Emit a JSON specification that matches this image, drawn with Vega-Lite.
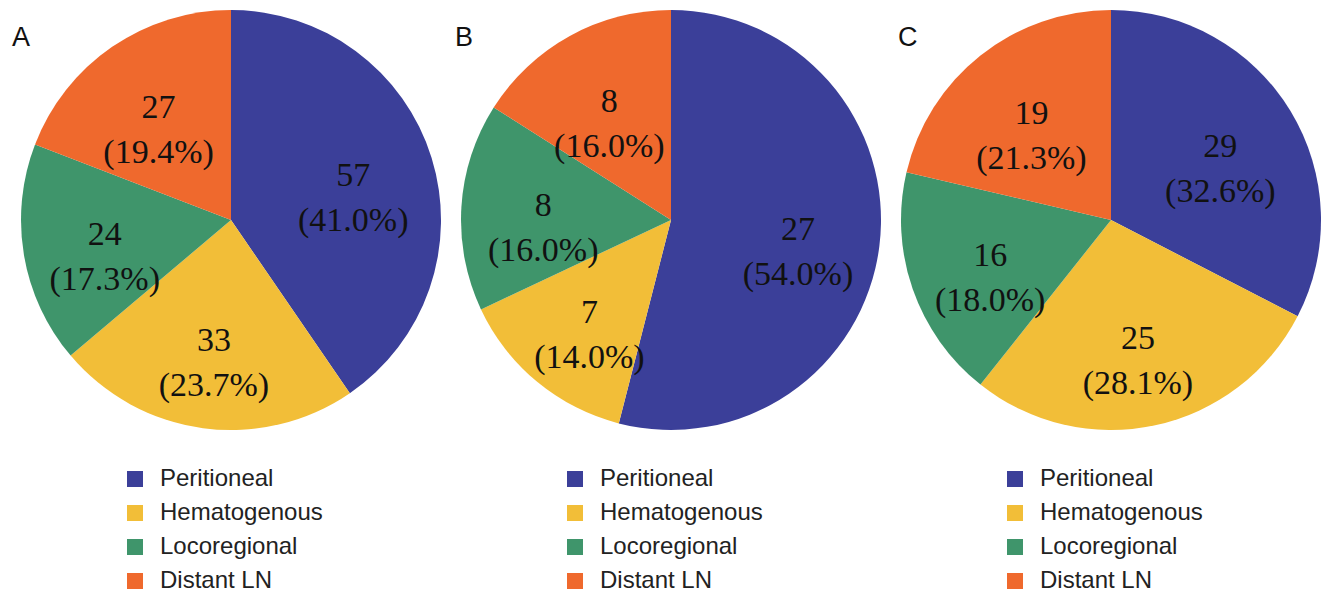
{
  "$schema": "https://vega.github.io/schema/vega-lite/v6.json",
  "padding": {"left": 11, "top": 10, "right": 0, "bottom": 0},
  "background": "white",
  "config": {
    "view": {"stroke": null},
    "concat": {"spacing": 0},
    "legend": {
      "orient": "none",
      "legendX": 112,
      "legendY": 457,
      "title": null,
      "symbolType": "square",
      "symbolSize": 256,
      "symbolStrokeWidth": 0,
      "labelFontSize": 24,
      "labelFont": "Liberation Sans",
      "labelColor": "#222222",
      "labelOffset": 13,
      "rowPadding": 10,
      "labelLimit": 300
    },
    "title": {
      "anchor": "start",
      "frame": "group",
      "font": "Liberation Sans",
      "fontSize": 27,
      "fontWeight": "normal",
      "color": "#111111",
      "baseline": "alphabetic",
      "offset": -42
    }
  },
  "datasets": {
    "d": [
      {"panel": "A", "idx": 1, "route": "Peritioneal", "count": 57, "label": "57\n(41.0%)"},
      {"panel": "A", "idx": 2, "route": "Hematogenous", "count": 33, "label": "33\n(23.7%)"},
      {"panel": "A", "idx": 3, "route": "Locoregional", "count": 24, "label": "24\n(17.3%)"},
      {"panel": "A", "idx": 4, "route": "Distant LN", "count": 27, "label": "27\n(19.4%)"},
      {"panel": "B", "idx": 1, "route": "Peritioneal", "count": 27, "label": "27\n(54.0%)"},
      {"panel": "B", "idx": 2, "route": "Hematogenous", "count": 7, "label": "7\n(14.0%)"},
      {"panel": "B", "idx": 3, "route": "Locoregional", "count": 8, "label": "8\n(16.0%)"},
      {"panel": "B", "idx": 4, "route": "Distant LN", "count": 8, "label": "8\n(16.0%)"},
      {"panel": "C", "idx": 1, "route": "Peritioneal", "count": 29, "label": "29\n(32.6%)"},
      {"panel": "C", "idx": 2, "route": "Hematogenous", "count": 25, "label": "25\n(28.1%)"},
      {"panel": "C", "idx": 3, "route": "Locoregional", "count": 16, "label": "16\n(18.0%)"},
      {"panel": "C", "idx": 4, "route": "Distant LN", "count": 19, "label": "19\n(21.3%)"}
    ]
  },
  "hconcat": [
    {
      "width": 440, "height": 420,
      "title": {"text": "A", "dx": 1},
      "data": {"name": "d"},
      "transform": [{"filter": "datum.panel === 'A'"}],
      "encoding": {
        "theta": {"field": "count", "type": "quantitative", "stack": true},
        "order": {"field": "idx", "type": "quantitative"}
      },
      "layer": [
        {
          "mark": {"type": "arc"},
          "encoding": {
            "color": {"field": "route", "type": "nominal",
              "scale": {"domain": ["Peritioneal", "Hematogenous", "Locoregional", "Distant LN"], "range": ["#3b3f99", "#f2be38", "#3f956b", "#ef692d"]},
              "sort": ["Peritioneal", "Hematogenous", "Locoregional", "Distant LN"]}
          }
        },
        {
          "mark": {"type": "text", "radius": 128, "dy": -6, "lineBreak": "\n", "font": "Liberation Serif", "fontSize": 34, "lineHeight": 45, "baseline": "middle", "align": "center", "fill": "#111111"},
          "encoding": {"text": {"field": "label", "type": "nominal"}}
        }
      ]
    },
    {
      "width": 440, "height": 420,
      "title": {"text": "B", "dx": 4},
      "data": {"name": "d"},
      "transform": [{"filter": "datum.panel === 'B'"}],
      "encoding": {
        "theta": {"field": "count", "type": "quantitative", "stack": true},
        "order": {"field": "idx", "type": "quantitative"}
      },
      "layer": [
        {
          "mark": {"type": "arc"},
          "encoding": {
            "color": {"field": "route", "type": "nominal",
              "scale": {"domain": ["Peritioneal", "Hematogenous", "Locoregional", "Distant LN"], "range": ["#3b3f99", "#f2be38", "#3f956b", "#ef692d"]},
              "sort": ["Peritioneal", "Hematogenous", "Locoregional", "Distant LN"]}
          }
        },
        {
          "mark": {"type": "text", "radius": 128, "dy": -6, "lineBreak": "\n", "font": "Liberation Serif", "fontSize": 34, "lineHeight": 45, "baseline": "middle", "align": "center", "fill": "#111111"},
          "encoding": {"text": {"field": "label", "type": "nominal"}}
        }
      ]
    },
    {
      "width": 440, "height": 420,
      "title": {"text": "C", "dx": 7},
      "data": {"name": "d"},
      "transform": [{"filter": "datum.panel === 'C'"}],
      "encoding": {
        "theta": {"field": "count", "type": "quantitative", "stack": true},
        "order": {"field": "idx", "type": "quantitative"}
      },
      "layer": [
        {
          "mark": {"type": "arc"},
          "encoding": {
            "color": {"field": "route", "type": "nominal",
              "scale": {"domain": ["Peritioneal", "Hematogenous", "Locoregional", "Distant LN"], "range": ["#3b3f99", "#f2be38", "#3f956b", "#ef692d"]},
              "sort": ["Peritioneal", "Hematogenous", "Locoregional", "Distant LN"]}
          }
        },
        {
          "mark": {"type": "text", "radius": 128, "dy": -6, "lineBreak": "\n", "font": "Liberation Serif", "fontSize": 34, "lineHeight": 45, "baseline": "middle", "align": "center", "fill": "#111111"},
          "encoding": {"text": {"field": "label", "type": "nominal"}}
        }
      ]
    }
  ],
  "resolve": {"scale": {"color": "independent", "theta": "independent"}, "legend": {"color": "independent"}}
}
